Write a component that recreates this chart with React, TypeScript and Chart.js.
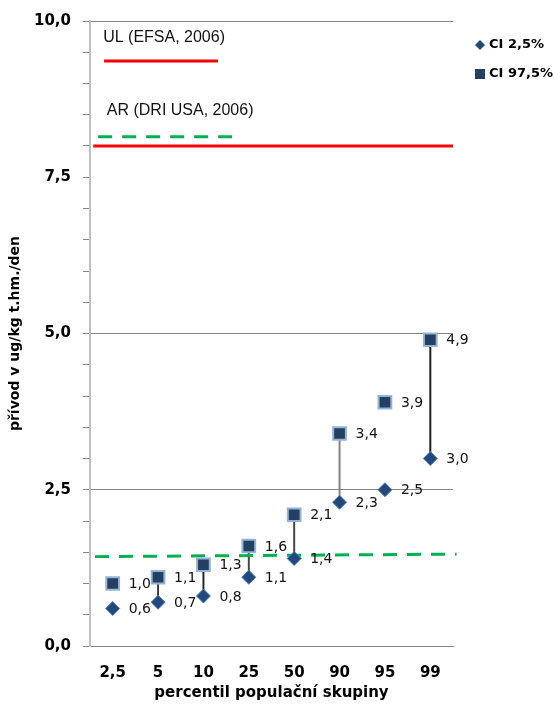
import React, { useEffect, useRef } from 'react';
import { Chart, registerables } from 'chart.js';

Chart.register(...registerables);

// ---- data ----
const categories = ['2,5', '5', '10', '25', '50', '90', '95', '99'];
const seriesNames = ['CI 2,5%', 'CI 97,5%'];
const ci25 = [0.6, 0.7, 0.8, 1.1, 1.4, 2.3, 2.5, 3.0];
const ci975 = [1.0, 1.1, 1.3, 1.6, 2.1, 3.4, 3.9, 4.9];
// high-low connector lines (only drawn for some categories in the original)
const whiskerLow: (number | null)[] = [null, 0.7, 0.8, 1.1, 1.4, 2.3, null, 3.0];
const whiskerHigh: (number | null)[] = [null, 1.1, 1.3, 1.6, 2.1, 3.4, null, 4.9];
const whiskerColors = ['#333333', '#3a3a3a', '#222222', '#444444', '#444444', '#808080', '#333333', '#1a1a1a'];

const yMajorTicks = [0, 2.5, 5, 7.5, 10];
const yGridValues = [2.5, 5, 10];

// reference lines (x on a 0..8 category-span axis, y in µg/kg)
const ulShort = [{ x: 0.31, y: 9.36 }, { x: 2.82, y: 9.36 }];
const ulLong = [{ x: 0.07, y: 8.0 }, { x: 8.0, y: 8.0 }];
const arShort = [{ x: 0.18, y: 8.15 }, { x: 3.13, y: 8.15 }];
const arLong = [{ x: 0.11, y: 1.43 }, { x: 8.08, y: 1.47 }];

const annotationTexts = ['UL (EFSA, 2006)', 'AR (DRI USA, 2006)'];
const annotationX = [0.29, 0.37];
const annotationY = [9.73, 8.57];

const fmt = (v: number) => v.toFixed(1).replace('.', ',');

const DIAMOND_FILL = '#24487A';
const DIAMOND_BORDER = '#4A7EBB';
const SQUARE_FILL = '#243F60';
const SQUARE_BORDER = '#95B3D7';

const pointLabelPlugin = {
  id: 'pointLabels',
  afterDatasetsDraw(chart: any) {
    const ctx = chart.ctx;
    ctx.save();
    ctx.font = '14px "DejaVu Sans"';
    ctx.fillStyle = '#111111';
    ctx.textBaseline = 'middle';
    ctx.textAlign = 'left';
    chart.data.datasets.forEach((ds: any, i: number) => {
      if (!ds.showLabels) return;
      const meta = chart.getDatasetMeta(i);
      meta.data.forEach((el: any, j: number) => {
        const v = ds.data[j];
        if (v == null) return;
        ctx.fillText(fmt(v), el.x + 16, el.y + 1);
      });
    });
    ctx.restore();
  },
};

const annotationPlugin = {
  id: 'annotTexts',
  afterDatasetsDraw(chart: any) {
    const ctx = chart.ctx;
    const xs = chart.scales.xl;
    const ys = chart.scales.y;
    ctx.save();
    ctx.font = '16px "Liberation Sans"';
    ctx.fillStyle = '#111111';
    ctx.textBaseline = 'middle';
    ctx.textAlign = 'left';
    annotationTexts.forEach((t, i) => {
      ctx.fillText(t, xs.getPixelForValue(annotationX[i]), ys.getPixelForValue(annotationY[i]));
    });
    ctx.restore();
  },
};

const legendPlugin = {
  id: 'customLegend',
  afterDraw(chart: any) {
    const ctx = chart.ctx;
    const x0 = chart.chartArea.right + 27;
    const y0 = 45;
    const gap = 29;
    ctx.save();
    // diamond
    ctx.fillStyle = DIAMOND_FILL;
    ctx.beginPath();
    ctx.moveTo(x0, y0 - 5);
    ctx.lineTo(x0 + 5, y0);
    ctx.lineTo(x0, y0 + 5);
    ctx.lineTo(x0 - 5, y0);
    ctx.closePath();
    ctx.fill();
    // square
    ctx.fillStyle = SQUARE_FILL;
    ctx.fillRect(x0 - 5, y0 + gap - 5, 10, 10);
    ctx.font = 'bold 13px "DejaVu Sans"';
    ctx.fillStyle = '#000000';
    ctx.textBaseline = 'middle';
    ctx.textAlign = 'left';
    ctx.fillText(seriesNames[0], x0 + 9, y0);
    ctx.fillText(seriesNames[1], x0 + 9, y0 + gap);
    ctx.restore();
  },
};

export default function App() {
  const ref = useRef<HTMLCanvasElement>(null);

  useEffect(() => {
    if (!ref.current) return;
    const refLine = (data: any[], color: string, dash: number[], order: number) => ({
      type: 'line',
      xAxisID: 'xl',
      yAxisID: 'y',
      data,
      borderColor: color,
      borderWidth: 3,
      borderDash: dash,
      pointRadius: 0,
      fill: false,
      clip: false,
      order,
    });

    const chart = new Chart(ref.current, {
      type: 'bar',
      data: {
        labels: categories,
        datasets: [
          {
            type: 'bar',
            xAxisID: 'x',
            yAxisID: 'y',
            data: whiskerLow.map((l, i) => (l == null || whiskerHigh[i] == null ? null : [l, whiskerHigh[i]])) as any,
            backgroundColor: whiskerColors,
            borderWidth: 0,
            barThickness: 1.3,
            grouped: false,
            order: 5,
          },
          refLine(ulShort, '#FF0000', [], 3),
          refLine(ulLong, '#FF0000', [], 3),
          refLine(arShort, '#00B050', [14, 10], 3),
          refLine(arLong, '#00B050', [14, 10], 3),
          {
            type: 'line',
            label: seriesNames[1],
            xAxisID: 'x',
            yAxisID: 'y',
            data: ci975,
            showLine: false,
            pointStyle: 'rect',
            pointRadius: 9,
            pointBackgroundColor: SQUARE_FILL,
            pointBorderColor: SQUARE_BORDER,
            pointBorderWidth: 2,
            showLabels: true,
            order: 1,
          } as any,
          {
            type: 'line',
            label: seriesNames[0],
            xAxisID: 'x',
            yAxisID: 'y',
            data: ci25,
            showLine: false,
            pointStyle: 'rectRot',
            pointRadius: 7,
            pointBackgroundColor: DIAMOND_FILL,
            pointBorderColor: DIAMOND_BORDER,
            pointBorderWidth: 1,
            showLabels: true,
            order: 0,
          } as any,
        ],
      } as any,
      options: {
        animation: false,
        responsive: false,
        devicePixelRatio: 1,
        layout: { padding: { top: 19, right: 102, left: 0, bottom: 0 } },
        plugins: { legend: { display: false }, tooltip: { enabled: false } },
        scales: {
          x: {
            type: 'category',
            offset: true,
            grid: { display: false, drawTicks: false, offset: true },
            border: { display: true, color: '#868686', width: 1 },
            ticks: {
              font: { family: 'DejaVu Sans', size: 15, weight: 'bold' },
              color: '#000000',
              padding: 18,
              maxRotation: 0,
              autoSkip: false,
            },
            title: {
              display: true,
              text: 'percentil populační skupiny',
              font: { family: 'DejaVu Sans', size: 15, weight: 'bold' },
              color: '#000000',
              padding: { top: 0, bottom: 8 },
            },
            afterFit(s: any) {
              s.height = 64;
            },
          },
          xl: {
            type: 'linear',
            display: false,
            min: 0,
            max: 8,
            offset: false,
            grid: { offset: false },
          },
          y: {
            min: 0,
            max: 10,
            ticks: {
              stepSize: 0.5,
              autoSkip: false,
              callback: (v: any) => (yMajorTicks.some((m) => Math.abs(m - v) < 1e-6) ? fmt(Number(v)) : ''),
              font: { family: 'DejaVu Sans', size: 15, weight: 'bold' },
              color: '#000000',
              padding: 12,
            },
            grid: {
              color: (c: any) =>
                c.tick && yGridValues.some((g) => Math.abs(g - c.tick.value) < 1e-6) ? '#868686' : 'rgba(0,0,0,0)',
              tickColor: '#868686',
              tickLength: 7,
              drawTicks: true,
              lineWidth: 1,
            },
            border: { color: '#BFBFBF', width: 2 },
            title: {
              display: true,
              text: 'přívod v ug/kg t.hm./den',
              font: { family: 'DejaVu Sans', size: 14, weight: 'bold' },
              color: '#000000',
              padding: { top: 7, bottom: 0 },
            },
            afterFit(s: any) {
              s.width = 90;
            },
          },
        },
      } as any,
      plugins: [pointLabelPlugin, annotationPlugin, legendPlugin],
    });
    return () => chart.destroy();
  }, []);

  return (
    <div style={{ position: 'fixed', left: 0, top: 0, width: 555, height: 710, background: '#ffffff' }}>
      <canvas ref={ref} width={555} height={710} style={{ display: 'block', width: 555, height: 710 }} />
    </div>
  );
}
